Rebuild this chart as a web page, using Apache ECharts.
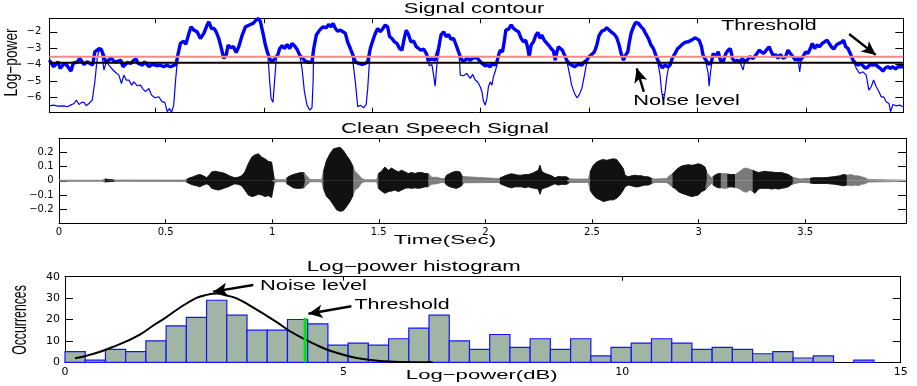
<!DOCTYPE html>
<html>
<head>
<meta charset="utf-8">
<script src="https://cdn.jsdelivr.net/npm/echarts@6/dist/echarts.min.js"></script>
<style>
html, body { margin: 0; padding: 0; background: #fff; }
#chart { width: 917px; height: 386px; }
</style>
</head>
<body>
<div id="chart"></div>
<script>
// ---------- Signal contour: log-power per analysis frame ----------
const frameRange = [1, 395];
const frameTicks = [50, 100, 150, 200, 250, 300, 350];
const logPowerRange = [-6.93, -1.18];
const logPowerTicks = [-6, -5, -4, -3, -2];
const thresholdLevel = -3.52;
const noiseLevel = -3.89;

// smoothed contour [frame, log-power]
const contourSmooth = [
  [1,-3.73],[3,-4.13],[5,-3.83],[6,-4.23],[8,-3.93],[9,-4.03],[11,-4.40],[12,-3.93],[14,-3.83],[15,-3.62],
  [17,-3.99],[18.5,-3.83],[21,-4.03],[22,-3.22],[24,-3.02],[25,-3.08],[26,-3.42],[27,-3.83],[28.5,-3.73],[29.5,-3.58],
  [31,-3.83],[32,-3.83],[34,-3.73],[35,-4.13],[37,-3.87],[38.5,-3.93],[40,-3.73],[41,-3.66],[42,-3.93],[44,-4.03],
  [45,-3.83],[47,-4.13],[48.5,-3.99],[51,-4.07],[52,-4.03],[54,-4.13],[55,-4.03],[57,-4.13],[58,-4.07],[59.5,-3.99],
  [60.3,-3.42],[61.5,-2.71],[63,-2.57],[64,-2.77],[65.4,-2.10],[66.4,-1.70],[67.7,-1.90],[69.2,-2.00],[70.7,-2.41],[72.3,-2.10],
  [73.8,-1.59],[74.6,-1.39],[75.8,-1.80],[77,-1.80],[78,-2.00],[79.2,-2.41],[80.4,-3.02],[81.5,-3.62],[82.6,-3.42],[83.5,-2.81],
  [84.6,-2.97],[86,-2.91],[87.2,-3.26],[88.4,-2.91],[90,-2.20],[91.5,-1.70],[93.3,-1.59],[95,-1.49],[96.4,-1.29],[97.6,-1.19],
  [98.4,-1.39],[99.6,-2.10],[100.7,-2.81],[101.8,-3.32],[103.0,-3.73],[104.2,-3.79],[105.3,-3.58],[106.4,-3.42],[107.3,-3.02],[108.4,-2.85],
  [109.5,-3.02],[110.7,-2.77],[111.9,-3.02],[113.0,-2.71],[114.1,-2.85],[115.3,-3.06],[116.5,-3.42],[117.6,-3.58],[119.1,-3.79],[120.7,-3.87],
  [122.2,-3.83],[123.0,-3.02],[124.2,-2.20],[125.7,-1.90],[127.3,-1.70],[128.8,-1.76],[129.9,-1.55],[131.0,-1.70],[131.9,-1.49],[133.0,-1.80],
  [134.0,-1.96],[135.3,-1.90],[136.5,-2.00],[137.6,-2.10],[138.6,-2.61],[139.9,-3.02],[141.1,-3.42],[142.2,-3.83],[143.7,-3.93],[145.3,-3.99],
  [146.8,-3.93],[147.9,-3.83],[149.1,-3.02],[150.3,-2.51],[151.4,-2.10],[152.5,-1.80],[153.7,-2.00],[154.9,-1.80],[156.0,-1.59],[157.1,-1.70],
  [158.0,-2.30],[159.1,-2.41],[160.2,-2.61],[161.4,-2.71],[162.6,-3.02],[163.7,-3.12],[164.8,-2.37],[165.7,-1.90],[166.8,-2.20],[167.8,-2.61],
  [169.1,-2.57],[170.3,-2.91],[171.4,-3.02],[172.4,-3.12],[173.7,-3.06],[174.9,-3.32],[176.0,-3.73],[177.5,-3.66],[179.0,-3.73],[180.6,-3.02],
  [181.7,-2.20],[182.9,-2.00],[184.1,-2.30],[185.2,-2.16],[186.3,-2.45],[187.5,-2.41],[188.7,-2.81],[189.8,-3.22],[190.9,-3.62],[192.1,-3.83],
  [193.6,-3.62],[195.2,-3.73],[196.7,-3.58],[198.2,-3.58],[199.0,-3.62],[200.6,-3.93],[202.1,-4.07],[203.3,-4.03],[204.4,-4.13],[205.5,-3.93],
  [206.7,-4.03],[207.5,-3.83],[208.3,-3.42],[209.0,-3.12],[210.1,-3.22],[211.0,-2.51],[211.6,-1.90],[212.9,-1.84],[214.1,-1.59],[215.2,-1.80],
  [216.2,-1.90],[217.5,-2.00],[218.7,-2.41],[219.8,-2.61],[220.8,-2.51],[221.8,-3.02],[222.4,-3.52],[223.3,-2.81],[224.4,-2.61],[225.5,-2.20],
  [226.4,-2.04],[227.5,-2.41],[228.2,-2.20],[229.3,-2.51],[230.2,-2.61],[231.3,-2.81],[232.5,-3.02],[233.6,-3.18],[234.4,-3.73],[235.1,-3.26],
  [235.9,-2.91],[236.7,-2.81],[237.7,-3.12],[238.7,-3.42],[239.7,-3.73],[240.8,-3.93],[242.0,-4.03],[243.3,-4.13],[244.4,-4.03],[245.4,-3.99],
  [246.7,-4.03],[247.9,-3.83],[249.0,-3.73],[250.0,-3.52],[251.3,-3.38],[252.5,-3.22],[253.6,-2.81],[254.6,-2.24],[255.9,-1.96],[257.1,-1.90],
  [258.2,-1.76],[259.3,-1.90],[260.5,-2.04],[261.7,-2.16],[262.8,-2.37],[263.9,-2.81],[264.8,-3.32],[265.9,-3.73],[266.9,-3.42],[267.9,-3.22],
  [268.5,-2.71],[269.4,-2.10],[270.5,-1.70],[271.5,-1.43],[272.8,-1.49],[274.0,-1.70],[275.1,-1.84],[276.1,-2.10],[277.4,-2.41],[278.6,-2.81],
  [279.7,-3.02],[280.8,-3.42],[281.7,-3.73],[282.8,-3.99],[283.8,-4.19],[285.1,-4.03],[286.3,-4.13],[287.4,-4.03],[288.4,-3.62],[289.7,-3.32],
  [290.9,-3.02],[292.0,-2.91],[293.0,-2.77],[294.3,-2.65],[295.8,-2.61],[297.3,-2.51],[298.9,-2.37],[299.6,-2.41],[300.8,-2.51],[301.9,-2.91],
  [302.6,-3.42],[303.4,-3.62],[304.5,-3.83],[305.4,-3.99],[306.5,-3.83],[307.3,-3.32],[308.5,-3.52],[309.6,-3.22],[310.6,-3.73],[311.9,-3.83],
  [313.1,-3.32],[314.2,-3.12],[315.2,-3.02],[316.2,-3.62],[317.2,-3.83],[318.3,-3.73],[319.5,-3.83],[320.8,-3.62],[321.8,-3.83],[322.9,-3.73],
  [324.1,-3.52],[325.7,-3.62],[327.2,-3.38],[328.5,-3.12],[329.5,-3.22],[330.6,-3.32],[331.8,-3.12],[333.1,-2.91],[334.1,-3.22],[335.2,-3.52],
  [336.1,-3.38],[337.2,-3.62],[338.3,-3.38],[339.5,-3.62],[340.7,-3.52],[341.8,-3.12],[342.9,-3.32],[344.1,-3.52],[345.3,-3.73],[346.4,-3.62],
  [347.5,-3.73],[348.7,-3.52],[350.0,-3.22],[351.0,-3.32],[352.1,-3.02],[353.0,-2.71],[354.1,-3.02],[355.2,-2.81],[356.4,-2.91],[357.6,-2.71],
  [358.7,-2.61],[359.8,-2.51],[360.7,-2.61],[361.8,-2.91],[362.9,-3.06],[364.1,-2.81],[365.3,-2.71],[366.4,-2.65],[367.5,-2.51],[368.4,-2.91],
  [369.5,-3.02],[370.5,-3.32],[371.8,-3.73],[373.0,-3.93],[374.1,-4.03],[375.1,-3.93],[376.4,-4.07],[377.6,-4.23],[378.7,-4.13],[379.8,-3.99],
  [381.0,-4.03],[382.2,-3.99],[383.3,-4.13],[384.4,-4.23],[385.6,-4.40],[386.8,-4.19],[387.9,-4.13],[389.0,-4.23],[390.2,-4.13],[391.4,-4.27],
  [392.5,-4.13],[393.3,-4.19],[395,-4.13]
];

// raw contour where it drops below the smoothed one (pauses)
const contourRawDips = [
  [[1,-6.51],[3,-6.47],[5,-6.53],[7.8,-6.51],[9.3,-6.57],[10.8,-6.47],[12.4,-6.37],[13.5,-6.16],[14.7,-6.43],[15.9,-6.30],
   [17,-6.30],[18,-6.51],[19.3,-6.37],[20.8,-6.16],[22,-5.05],[23.1,-3.62],[23.9,-3.12],[25.1,-3.22],[26.2,-4.33],[27.3,-3.83],
   [28.5,-4.03],[30,-4.27],[31.6,-4.48],[33.1,-4.64],[34.3,-5.15],[35.4,-4.64],[36.5,-4.94],[37.7,-4.94],[39,-5.25],[40,-5.05],
   [41.6,-5.29],[43.1,-5.25],[44.2,-5.49],[45.4,-5.65],[46.9,-5.45],[48.2,-5.86],[49.7,-6.02],[51.5,-5.96],[53,-6.26],[54.3,-6.30],
   [55.4,-6.87],[56.5,-6.67],[57.4,-6.91],[58.4,-6.47],[59.2,-5.05],[60.3,-3.42]],
  [[101.8,-3.32],[102.7,-5.05],[103.3,-6.06],[104.2,-6.30],[104.9,-5.05],[105.8,-3.50]],
  [[116.5,-3.42],[117.6,-4.23],[118.7,-5.65],[119.9,-6.47],[121.1,-6.77],[122.2,-6.63],[122.7,-5.05],[123.0,-3.02]],
  [[140.6,-3.30],[142.2,-5.05],[143.3,-6.57],[144.5,-6.47],[146.0,-6.63],[147.2,-6.43],[147.9,-5.45],[148.8,-3.62]],
  [[175.2,-3.73],[176.4,-4.07],[177.5,-3.99],[178.3,-4.64],[179.0,-5.31],[179.8,-4.03],[180.6,-3.42]],
  [[190.3,-3.83],[190.6,-4.64],[192.1,-4.68],[193.6,-4.54],[195.2,-4.84],[196.4,-4.60],[197.5,-4.94],[198.6,-5.05],[199.8,-5.35],[200.6,-5.65],
   [201.3,-6.22],[202.1,-6.47],[202.9,-6.06],[203.6,-5.35],[204.4,-5.05],[205.2,-5.25],[205.9,-4.74],[206.7,-4.44],[207.5,-4.03],[208.3,-3.42]],
  [[239.7,-3.73],[240.8,-4.44],[242.0,-5.25],[243.3,-5.75],[244.4,-6.02],[245.4,-5.86],[246.7,-5.45],[247.9,-4.64],[249.0,-3.83]],
  [[281.7,-3.83],[282.8,-4.64],[283.5,-5.65],[284.3,-6.20],[285.1,-5.65],[285.8,-4.84],[286.6,-4.23],[287.4,-4.33],[288.1,-3.83]],
  [[303.4,-3.62],[304.2,-4.03],[305.0,-4.54],[305.4,-5.31],[306.0,-4.54],[306.9,-3.62]],
  [[320.0,-3.83],[321.1,-4.33],[321.8,-3.83]],
  [[346.4,-3.62],[347.2,-4.44],[348.0,-3.62]],
  [[371.8,-3.73],[373.3,-4.23],[374.8,-4.54],[376.4,-4.44],[377.9,-4.64],[379.1,-5.56],[380.2,-5.35],[381.3,-4.94],[382.5,-5.35],[383.8,-5.65],
   [384.8,-5.96],[385.9,-5.96],[387.1,-6.26],[388.4,-6.37],[389.1,-6.87],[390.2,-6.43],[391.7,-6.51],[393.3,-6.47],[395,-6.57]]
];

// ---------- Clean speech signal: waveform envelope [time s, upper, lower] ----------
const timeRange = [0, 3.973];
const timeTicks = [0, 0.5, 1, 1.5, 2, 2.5, 3, 3.5];
const amplitudeRange = [-0.3, 0.3];
const amplitudeTicks = [-0.2, -0.1, 0, 0.1, 0.2];
const speechEnvelope = [
  [0,0.004,-0.004],[0.20,0.004,-0.004],[0.215,0.012,-0.008],[0.232,0.010,-0.006],[0.26,0.005,-0.004],[0.59,0.005,-0.005],
  [0.599,0.009,-0.009],[0.614,0.021,-0.021],[0.630,0.028,-0.030],[0.646,0.039,-0.035],[0.661,0.044,-0.042],[0.677,0.035,-0.030],
  [0.693,0.021,-0.021],[0.704,0.039,-0.030],[0.716,0.0625,-0.053],[0.732,0.067,-0.060],[0.747,0.0625,-0.065],[0.763,0.058,-0.058],
  [0.779,0.051,-0.049],[0.794,0.039,-0.042],[0.810,0.028,-0.030],[0.825,0.021,-0.021],[0.841,0.025,-0.025],[0.857,0.035,-0.035],
  [0.872,0.0625,-0.065],[0.888,0.120,-0.100],[0.904,0.167,-0.111],[0.919,0.183,-0.106],[0.935,0.190,-0.095],[0.951,0.167,-0.100],
  [0.966,0.155,-0.111],[0.982,0.137,-0.104],[0.997,0.132,-0.118],[1.005,0.120,-0.111],[1.010,0.010,-0.010],
  [1.030,0.008,-0.007],[1.060,0.008,-0.007],
  [1.068,0.021,-0.021],[1.084,0.035,-0.035],[1.099,0.044,-0.049],[1.115,0.051,-0.053],[1.130,0.056,-0.053],[1.146,0.058,-0.049],[1.154,0.051,-0.042],
  [1.166,0.028,-0.025],[1.177,0.009,-0.007],[1.232,0.008,-0.007],
  [1.240,0.0625,-0.053],[1.255,0.144,-0.111],[1.271,0.190,-0.134],[1.287,0.225,-0.169],[1.302,0.231,-0.204],[1.318,0.236,-0.215],
  [1.334,0.213,-0.210],[1.349,0.178,-0.181],[1.365,0.144,-0.146],[1.380,0.097,-0.100],
  [1.388,0.067,-0.065],[1.404,0.044,-0.049],[1.420,0.016,-0.014],[1.435,0.007,-0.007],[1.490,0.007,-0.007],
  [1.498,0.051,-0.053],[1.513,0.067,-0.072],[1.529,0.097,-0.088],[1.545,0.074,-0.076],[1.560,0.090,-0.072],[1.576,0.074,-0.065],
  [1.592,0.0625,-0.076],[1.607,0.074,-0.065],[1.623,0.0625,-0.053],[1.638,0.051,-0.049],[1.654,0.058,-0.053],[1.670,0.051,-0.049],
  [1.685,0.058,-0.053],[1.701,0.058,-0.049],[1.717,0.051,-0.042],[1.732,0.051,-0.042],
  [1.748,0.025,-0.025],[1.771,0.025,-0.021],[1.795,0.016,-0.012],
  [1.810,0.016,-0.014],[1.818,0.039,-0.030],[1.834,0.051,-0.042],[1.850,0.0625,-0.049],[1.865,0.067,-0.053],[1.881,0.0625,-0.042],[1.892,0.030,-0.030],
  [1.900,0.016,-0.014],[2.060,0.016,-0.012],
  [2.068,0.020,-0.020],[2.076,0.021,-0.021],[2.092,0.035,-0.035],[2.108,0.044,-0.044],[2.123,0.049,-0.049],[2.139,0.044,-0.042],
  [2.154,0.039,-0.042],[2.170,0.039,-0.042],[2.186,0.044,-0.049],[2.201,0.044,-0.042],[2.217,0.051,-0.049],[2.233,0.0625,-0.053],
  [2.248,0.074,-0.058],[2.256,0.109,-0.095],[2.264,0.067,-0.058],[2.280,0.051,-0.049],[2.295,0.044,-0.042],[2.311,0.035,-0.030],
  [2.326,0.021,-0.021],[2.342,0.030,-0.030],[2.358,0.028,-0.025],[2.381,0.028,-0.025],[2.394,0.014,-0.012],
  [2.420,0.012,-0.012],[2.483,0.012,-0.012],
  [2.491,0.0625,-0.065],[2.506,0.109,-0.100],[2.522,0.132,-0.123],[2.538,0.144,-0.134],[2.553,0.150,-0.146],[2.569,0.144,-0.141],
  [2.584,0.150,-0.134],[2.600,0.155,-0.134],[2.616,0.150,-0.123],[2.631,0.120,-0.100],[2.647,0.086,-0.065],[2.655,0.039,-0.042],
  [2.670,0.028,-0.030],[2.686,0.035,-0.035],[2.702,0.039,-0.042],[2.717,0.035,-0.042],[2.733,0.035,-0.035],[2.749,0.028,-0.030],
  [2.764,0.028,-0.030],[2.780,0.016,-0.019],
  [2.796,0.012,-0.012],[2.850,0.016,-0.012],[2.866,0.039,-0.030],
  [2.878,0.050,-0.045],[2.889,0.067,-0.053],[2.905,0.090,-0.076],[2.921,0.104,-0.088],[2.936,0.109,-0.095],[2.952,0.113,-0.104],
  [2.968,0.109,-0.111],[2.983,0.113,-0.106],[2.999,0.120,-0.100],[3.014,0.113,-0.076],[3.030,0.097,-0.065],[3.038,0.0625,-0.053],
  [3.046,0.044,-0.042],[3.061,0.021,-0.019],
  [3.069,0.030,-0.030],[3.077,0.044,-0.042],[3.093,0.051,-0.049],[3.104,0.051,-0.049],
  [3.118,0.051,-0.053],[3.132,0.051,-0.053],
  [3.135,0.044,-0.042],[3.150,0.044,-0.042],[3.171,0.044,-0.045],
  [3.179,0.051,-0.049],[3.194,0.067,-0.058],[3.210,0.086,-0.076],[3.225,0.090,-0.081],[3.241,0.081,-0.065],[3.249,0.070,-0.070],
  [3.254,0.074,-0.076],[3.265,0.067,-0.088],[3.280,0.058,-0.058],[3.296,0.0625,-0.053],[3.311,0.067,-0.053],[3.327,0.0625,-0.053],
  [3.343,0.0625,-0.058],[3.358,0.058,-0.053],[3.374,0.058,-0.058],[3.390,0.058,-0.053],[3.405,0.051,-0.049],[3.421,0.044,-0.042],
  [3.437,0.028,-0.025],[3.444,0.020,-0.020],
  [3.452,0.021,-0.019],[3.476,0.012,-0.012],[3.499,0.016,-0.012],[3.515,0.016,-0.014],
  [3.523,0.016,-0.014],[3.538,0.021,-0.019],[3.570,0.021,-0.019],[3.601,0.023,-0.019],[3.632,0.028,-0.023],[3.663,0.035,-0.030],
  [3.679,0.044,-0.035],[3.695,0.040,-0.030],
  [3.702,0.051,-0.042],[3.718,0.044,-0.035],[3.734,0.035,-0.030],[3.749,0.035,-0.035],[3.765,0.028,-0.025],[3.781,0.021,-0.021],
  [3.796,0.009,-0.009],[3.973,0.004,-0.004]
];
// stretches drawn in black (the rest is grey)
const voicedSpans = [
  [0.215,0.26],[0.599,1.010],[1.068,1.154],[1.240,1.380],[1.498,1.732],[1.810,1.892],[2.068,2.394],
  [2.491,2.780],[2.878,3.038],[3.069,3.104],[3.135,3.171],[3.254,3.444],[3.523,3.695]
];

// ---------- Log-power histogram ----------
const dbRange = [0, 15];
const dbTicks = [0, 5, 10, 15];
const countRange = [0, 40];
const countTicks = [0, 10, 20, 30, 40];
const binWidth = 0.363;
const binCounts = [5,1,6,5,10,17,21,29,22,15,15,20,18,8,9,8,11,16,22,10,
                   6,13,7,11,6,11,3,7,9,11,9,6,7,6,4,5,2,3,0,1];
const noiseFit = [
  [0.18,1.85],[0.39,3.1],[0.63,4.9],[0.87,7.3],[1.11,9.9],[1.35,13.0],[1.59,17.3],[1.82,21.1],[2.06,25.5],
  [2.36,30.1],[2.54,31.5],[2.72,32.1],[2.90,31.2],[3.08,29.9],[3.32,26.5],[3.56,22.7],[3.80,18.8],[4.04,14.5],
  [4.28,11.1],[4.52,8.0],[4.76,5.4],[5.06,3.1],[5.35,1.5],[5.65,0.6],[6.01,0.15],[6.6,0.02]
];
const thresholdDb = 4.31;
const thresholdBarTop = 20.8;

// ---------- derived series data ----------
const contourRaw = (function () {
  const inDip = f => contourRawDips.some(d => f >= d[0][0] && f <= d[d.length - 1][0]);
  const pts = contourSmooth.filter(p => !inDip(p[0]));
  contourRawDips.forEach(d => d.forEach(p => pts.push(p)));
  return pts.sort((a, b) => a[0] - b[0]);
})();
const isVoiced = t => voicedSpans.some(s => t >= s[0] - 1e-9 && t <= s[1] + 1e-9);
const envUpperAll = speechEnvelope.map(p => [p[0], p[1]]);
const envLowerAll = speechEnvelope.map(p => [p[0], p[2]]);
const envUpperVoiced = speechEnvelope.map(p => [p[0], isVoiced(p[0]) ? p[1] : null]);
const envLowerVoiced = speechEnvelope.map(p => [p[0], isVoiced(p[0]) ? p[2] : null]);
const histData = binCounts.map((c, i) => [i * binWidth, c]);

// ---------- layout ----------
const grids = [
  { left: 49.3, top: 18.3, width: 854, height: 94.4 },
  { left: 59, top: 138.3, width: 847, height: 85 },
  { left: 65, top: 276.7, width: 835.7, height: 85.6 }
];
const TICK_FONT = 'DejaVu Sans';
const TEXT_FONT = '"Liberation Sans", Arial, Helvetica, sans-serif';
const minusFmt = v => (v < 0 ? '\u2212' + Math.abs(v) : String(v));

function axis(gridIndex, range, position, ticks, tickLen, label) {
  return {
    type: 'value', gridIndex, min: range[0], max: range[1], position,
    axisLine: { show: true, onZero: false, lineStyle: { color: '#000', width: 1 } },
    axisTick: { show: true, inside: true, length: tickLen, customValues: ticks, lineStyle: { color: '#000', width: 1 } },
    axisLabel: label
      ? Object.assign({ show: true, customValues: ticks, color: '#000', fontFamily: TICK_FONT, formatter: minusFmt }, label)
      : { show: false },
    splitLine: { show: false },
    axisPointer: { show: false }
  };
}

const xAxes = [
  axis(0, frameRange, 'bottom', frameTicks, 5, null),
  axis(0, frameRange, 'top', frameTicks, 5, null),
  axis(1, timeRange, 'bottom', timeTicks, 4, { fontSize: 10, margin: 4 }),
  axis(1, timeRange, 'top', timeTicks, 4, null),
  axis(2, dbRange, 'bottom', dbTicks, 4, { fontSize: 11, margin: 4 }),
  axis(2, dbRange, 'top', dbTicks, 4, null)
];
const yAxes = [
  axis(0, logPowerRange, 'left', logPowerTicks, 8, { fontSize: 10, margin: 8 }),
  axis(0, logPowerRange, 'right', logPowerTicks, 8, null),
  axis(1, amplitudeRange, 'left', amplitudeTicks, 8, { fontSize: 10, margin: 5.5 }),
  axis(1, amplitudeRange, 'right', amplitudeTicks, 8, null),
  axis(2, countRange, 'left', countTicks, 8, { fontSize: 11, margin: 5 }),
  axis(2, countRange, 'right', countTicks, 8, null)
];

const arrowLine = (from, to) => [{ coord: from }, { coord: to }];
const arrowMark = pairs => ({
  silent: true, animation: false,
  symbol: ['none', 'arrow'], symbolSize: [10, 14],
  lineStyle: { color: '#000', width: 2.4, type: 'solid' },
  label: { show: false },
  emphasis: { disabled: true },
  data: pairs.map(p => arrowLine(p[0], p[1]))
});

// annotation arrows, in data units of their panel
const contourArrows = [
  [[370.0, -2.14], [382.3, -3.41]],
  [[275.3, -5.66], [272.0, -4.23]]
];
const histArrows = [
  [[3.38, 36.1], [2.66, 33.0]],
  [[5.14, 26.2], [4.37, 22.7]]
];

function lineSeries(name, xi, yi, data, color, width, z, extra) {
  return Object.assign({
    name, type: 'line', xAxisIndex: xi, yAxisIndex: yi, data,
    showSymbol: false, symbol: 'none', silent: true, animation: false, z,
    lineStyle: { color, width }, itemStyle: { color },
    emphasis: { disabled: true }
  }, extra || {});
}

const GREY = '#7a7a7a', BLACK = '#111111';
const envArea = color => ({ areaStyle: { color, opacity: 1, origin: 'auto' }, connectNulls: false });

const chart = echarts.init(document.getElementById('chart'), null, { renderer: 'canvas' });
chart.setOption({
  backgroundColor: '#ffffff',
  animation: false,
  grid: grids.map(g => Object.assign({ containLabel: false, outerBoundsMode: 'none' }, g)),
  xAxis: xAxes,
  yAxis: yAxes,
  series: [
    // 0..3: signal contour
    lineSeries('raw', 0, 0, contourRaw, '#0000ff', 1.2, 2),
    lineSeries('smooth', 0, 0, contourSmooth, '#0000ff', 3.4, 3, { markLine: arrowMark(contourArrows) }),
    lineSeries('threshold', 0, 0, [[frameRange[0], thresholdLevel], [frameRange[1], thresholdLevel]], '#f28a8a', 2, 4),
    lineSeries('noise', 0, 0, [[frameRange[0], noiseLevel], [frameRange[1], noiseLevel]], '#000000', 2, 4),
    // 4..7: speech waveform
    lineSeries('envUpG', 2, 2, envUpperAll, GREY, 0.8, 2, envArea(GREY)),
    lineSeries('envLoG', 2, 2, envLowerAll, GREY, 0.8, 2, envArea(GREY)),
    lineSeries('envUpB', 2, 2, envUpperVoiced, BLACK, 0.8, 3, envArea(BLACK)),
    lineSeries('envLoB', 2, 2, envLowerVoiced, BLACK, 0.8, 3, envArea(BLACK)),
    // 8..10: histogram
    {
      name: 'hist', type: 'custom', xAxisIndex: 4, yAxisIndex: 4, data: histData,
      encode: { x: 0, y: 1 }, silent: true, animation: false, z: 2,
      renderItem: function (params, api) {
        const x0 = api.value(0), h = api.value(1);
        if (!h) return null;
        const p0 = api.coord([x0, h]);
        const p1 = api.coord([x0 + binWidth, 0]);
        return {
          type: 'rect',
          shape: { x: p0[0], y: p0[1], width: p1[0] - p0[0], height: p1[1] - p0[1] },
          style: { fill: '#a1b5a5', stroke: '#1414ff', lineWidth: 1.2 }
        };
      }
    },
    lineSeries('fit', 4, 4, noiseFit, '#000000', 2, 4, { smooth: 0.4, markLine: arrowMark(histArrows) }),
    lineSeries('thrBar', 4, 4, [[thresholdDb, 0], [thresholdDb, thresholdBarTop]], '#00e600', 3, 5)
  ]
});

// ---------- text: titles, axis names, annotations ----------
function text(str, x, y, size, sx, opts) {
  opts = opts || {};
  return {
    type: 'text', x, y, silent: true, z: 100,
    rotation: opts.rotation || 0,
    scaleX: opts.rotation ? 1 : sx,
    scaleY: opts.rotation ? sx : 1,
    style: {
      text: str, font: size + 'px ' + TEXT_FONT, fill: '#000',
      align: 'center', verticalAlign: 'middle', textAlign: 'center', textVerticalAlign: 'middle'
    }
  };
}
const at = (seriesIndex, pt) => chart.convertToPixel({ seriesIndex }, pt);

const thrTop = at(1, [333.0, -1.67]);
const noiseTop = at(1, [295.0, -6.2]);
const noiseHist = at(9, [4.46, 35.8]);
const thrHist = at(9, [6.05, 26.5]);

chart.setOption({
  graphic: [
    text('Signal contour', 474, 9.5, 14, 1.57),
    text('Log\u2212power', 12, 62.5, 13.7, 1.35, { rotation: Math.PI / 2 }),
    text('Threshold', thrTop[0], thrTop[1], 14, 1.53),
    text('Noise level', noiseTop[0], noiseTop[1], 14, 1.56),
    text('Clean Speech Signal', 445, 129, 14, 1.59),
    text('Time(Sec)', 445, 240, 13, 1.72),
    text('Log\u2212power histogram', 413.7, 267, 14, 1.585),
    text('Occurrences', 20.5, 320, 12.3, 1.7, { rotation: Math.PI / 2 }),
    text('Log\u2212power(dB)', 481.7, 375, 13, 1.7),
    text('Noise level', noiseHist[0], noiseHist[1], 14, 1.56),
    text('Threshold', thrHist[0], thrHist[1], 14, 1.53)
  ]
});
</script>
</body>
</html>
